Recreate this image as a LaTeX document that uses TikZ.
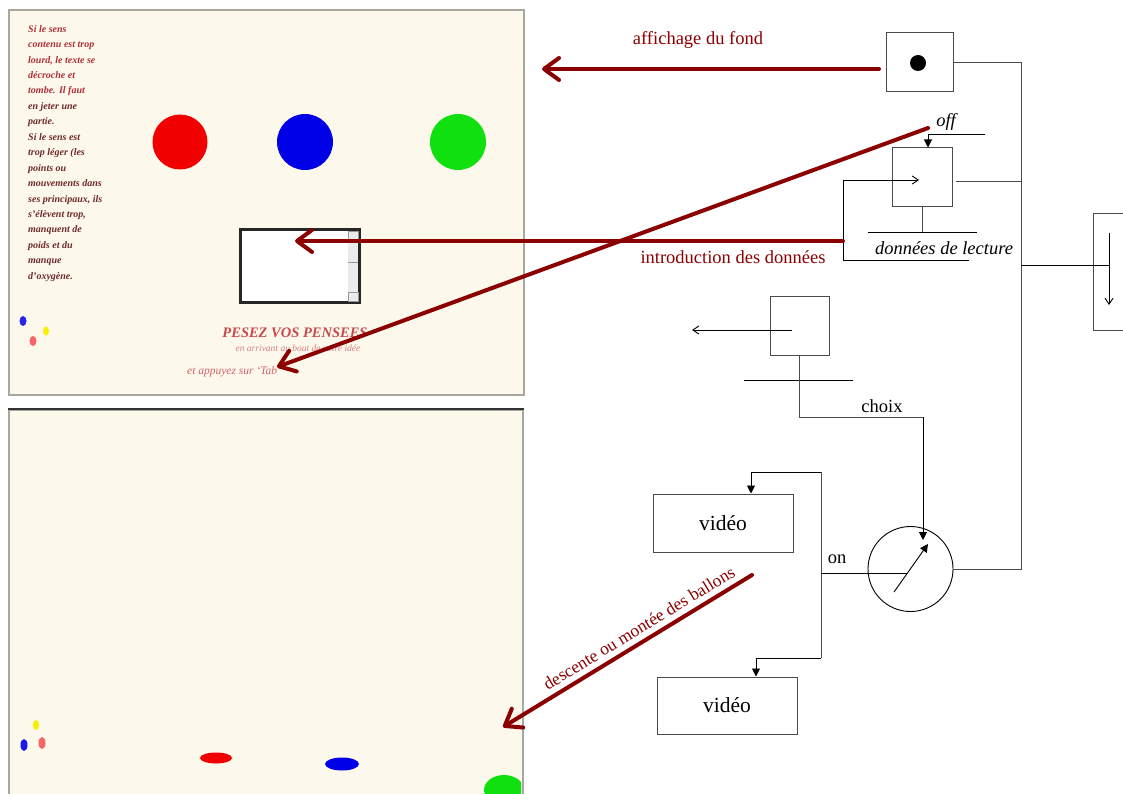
\documentclass[tikz,border=0pt]{standalone}
\usepackage{fontspec}
\setmainfont{Liberation Serif}
\usetikzlibrary{arrows.meta}

\definecolor{arrowred}{HTML}{8B0000}
\definecolor{paper}{HTML}{FDF8EC}
\definecolor{framegray}{HTML}{A8A8A0}
\definecolor{linegray}{HTML}{4A4A4A}
\definecolor{noteRed}{HTML}{B0303A}
\definecolor{noteDark}{HTML}{6E2A2A}
\definecolor{titleRed}{HTML}{C8484E}
\definecolor{ballRed}{HTML}{F00000}
\definecolor{ballBlue}{HTML}{0000E6}
\definecolor{ballGreen}{HTML}{10E010}
\definecolor{ballYellow}{HTML}{F5F000}

\begin{document}
\begin{tikzpicture}[x=1pt,y=-1pt,
  box/.style={draw=linegray, line width=1pt, inner sep=0pt},
  wire/.style={draw=linegray, line width=1pt},
  thinline/.style={draw=black, line width=0.9pt},
  tri/.style={thinline, -{Triangle[length=8pt,width=8pt]}},
  barb/.style={thinline, -{Straight Barb[length=6pt,width=8pt]}},
  bigarrow/.style={draw=arrowred, line width=4pt, line cap=round,
    -{Straight Barb[length=15pt,width=22pt,line cap=round,line join=round]}},
  redlabel/.style={text=arrowred, font=\fontsize{18.5}{20}\selectfont, inner sep=0pt},
  blacklabel/.style={text=black, inner sep=0pt, font=\fontsize{18.5}{20}\selectfont}
]
\useasboundingbox (0,0) rectangle (1123,794);
\clip (0,0) rectangle (1123,794);
\fill[white] (0,0) rectangle (1123,794);

% ---------- upper screen: entry form ----------
\node[rectangle, fill=paper, draw=framegray, line width=2pt,
      minimum width=515pt, minimum height=385pt, anchor=north west, inner sep=0pt]
      (screenA) at (8,9) {};

\node[anchor=north west, align=left, inner sep=0pt,
      font=\bfseries\itshape\fontsize{10}{15.45}\selectfont] (note) at (28,25)
  {\textcolor{noteRed}{Si le sens}\\
   \textcolor{noteRed}{contenu est trop}\\
   \textcolor{noteRed}{lourd, le texte se}\\
   \textcolor{noteRed}{décroche et}\\
   \textcolor{noteRed}{tombe. Il faut}\\
   \textcolor{noteDark}{en jeter une}\\
   \textcolor{noteDark}{partie.}\\
   \textcolor{noteDark}{Si le sens est}\\
   \textcolor{noteDark}{trop léger (les}\\
   \textcolor{noteDark}{points ou}\\
   \textcolor{noteDark}{mouvements dans}\\
   \textcolor{noteDark}{ses principaux, ils}\\
   \textcolor{noteDark}{s'élèvent trop,}\\
   \textcolor{noteDark}{manquent de}\\
   \textcolor{noteDark}{poids et du}\\
   \textcolor{noteDark}{manque}\\
   \textcolor{noteDark}{d'oxygène.}};

% balloons
\fill[ballRed] (180,142) circle (27.5);
\fill[ballBlue] (305,142) circle (28);
\fill[ballGreen] (458,142) circle (28);

% text entry field with its scroll bar
\node[rectangle, draw=black!85, line width=2.5pt, fill=white,
      minimum width=119pt, minimum height=73pt, inner sep=0pt] (entry) at (300,266) {};
\fill[black!8] (348,231) rectangle (358,301);
\draw[black!40, line width=0.6pt] (348,231) rectangle (358,240);
\draw[black!40, line width=0.6pt] (348,292) rectangle (358,301);
\draw[black!40, line width=0.6pt] (348,262) -- (358,262);

\node[text=titleRed, font=\bfseries\itshape\fontsize{14.5}{15}\selectfont, inner sep=0pt]
      (title) at (295,333) {PESEZ VOS PENSEES};
\node[text=titleRed!70, font=\itshape\fontsize{9.5}{10}\selectfont, inner sep=0pt]
      (subtitle) at (298,348) {en arrivant au bout de votre idée};
\node[text=titleRed!85, font=\itshape\fontsize{11.5}{12}\selectfont, inner sep=0pt, anchor=west]
      (hint) at (187,372) {et appuyez sur `Tab'};

% small markers
\fill[ballBlue!85] (23,321) ellipse (3.5 and 5);
\fill[ballYellow] (46,331) ellipse (3 and 4.5);
\fill[ballRed!60] (33,341) ellipse (3.5 and 5);

% ---------- lower screen: balloons moving ----------
\node[rectangle, fill=paper, draw=framegray, line width=2pt,
      minimum width=514pt, minimum height=392pt, anchor=north west, inner sep=0pt]
      (screenB) at (8,409) {};
\draw[black!80, line width=2pt] (screenB.north west) -- (screenB.north east);
\fill[ballYellow] (36,725) ellipse (3 and 5);
\fill[ballBlue!90] (24,745) ellipse (3.5 and 6);
\fill[ballRed!60] (42,743) ellipse (3.5 and 6);
\fill[ballRed] (216,758) ellipse (16 and 5.5);
\fill[ballBlue] (342,764) ellipse (17 and 6.5);
\begin{scope}
  \clip (9,410) rectangle (521,794);
  \fill[ballGreen] (504,790) ellipse (20 and 15);
\end{scope}

% ---------- control diagram ----------
\node[box, minimum width=67pt, minimum height=59pt] (fond) at (919.5,62.5) {};
\node[circle, fill=black, minimum size=16pt, inner sep=0pt] (dot) at (918,63) {};

\node[box, minimum width=60pt, minimum height=59pt] (store) at (922,177.5) {};
\node[box, minimum width=60pt, minimum height=117pt, anchor=north west] (sink) at (1093,213) {};
\node[box, minimum width=59pt, minimum height=59pt] (choice) at (799.5,325.5) {};
\node[box, minimum width=140pt, minimum height=58pt, font=\fontsize{21.5}{22}\selectfont] (vidA) at (723,523) {vidéo};
\node[box, minimum width=140pt, minimum height=57pt, font=\fontsize{21.5}{22}\selectfont] (vidB) at (727,705.5) {vidéo};
\node[draw=black, line width=0.9pt, circle, minimum size=85pt, inner sep=0pt] (gate) at (910.5,569) {};

% bus on the right
\coordinate (busBot) at (1021,569);
\draw[wire] (fond.east) -| (busBot) -- (gate.east);
\coordinate (storeOut) at (956,182);
\draw[wire] (storeOut) -- (storeOut -| busBot);
\coordinate (tap) at (1021,265);
\coordinate (sinkIn) at (1109,233);
\coordinate (sinkOut) at (1109,305);
\draw[thinline] (tap) -- (tap -| sinkIn);
\draw[barb] (sinkIn) -- (sinkOut);

% "off" input
\coordinate (offEnd) at (985,134);
\coordinate (offCorner) at (928,134);
\draw[tri] (offEnd) -- (offCorner) -- (offCorner |- store.north);
\node[blacklabel, font=\itshape\fontsize{18.5}{20}\selectfont] (offLbl) at (946,122) {off};

% reading data
\coordinate (storeFoot) at (922,232);
\coordinate (barL) at (868,232);
\coordinate (barR) at (977,232);
\draw[wire] (store.south) -- (storeFoot);
\draw[thinline] (barL) -- (barR);
\node[blacklabel, font=\itshape\fontsize{18.5}{20}\selectfont] (readLbl) at (944,248) {données de lecture};
\coordinate (loopA) at (969,260);
\coordinate (loopB) at (843,260);
\coordinate (loopC) at (843,180);
\coordinate (loopD) at (919,180);
\draw[barb] (loopA) -- (loopB) -- (loopC) -- (loopD);

% choice
\coordinate (choiceIn) at (792,330);
\coordinate (choiceOut) at (692,330);
\draw[barb] (choiceIn) -- (choiceOut);
\coordinate (chBarL) at (744,380);
\coordinate (chBarR) at (853,380);
\draw[thinline] (chBarL) -- (chBarR);
\coordinate (chTurn) at (799.5,417);
\coordinate (chCorner) at (923,417);
\coordinate (chTip) at (923,540);
\draw[wire] (choice.south) -- (chTurn) -- (chCorner);
\draw[tri] (chCorner) -- (chTip);
\node[blacklabel] (choixLbl) at (882,406) {choix};

% switch to the two videos
\coordinate (vTop) at (821,472);
\coordinate (vBot) at (821,658);
\coordinate (vOn) at (821,573);
\coordinate (gateHub) at (907,573);
\coordinate (vAin) at (751,472);
\coordinate (vBin) at (756,658);
\draw[wire] (vTop) -- (vBot);
\draw[tri] (vTop) -- (vAin) -- (vAin |- vidA.north);
\draw[tri] (vBot) -- (vBin) -- (vBin |- vidB.north);
\draw[thinline] (vOn) -- (gateHub);
\node[blacklabel] (onLbl) at (837,559) {on};
\coordinate (needleA) at (894,592);
\coordinate (needleB) at (928,544);
\draw[tri] (needleA) -- (needleB);

% ---------- links to the screens ----------
\coordinate (fondOut) at (879,69);
\coordinate (screenTop) at (542,69);
\draw[bigarrow] (fondOut) -- (screenTop);
\node[redlabel] (fondLbl) at (698,40) {affichage du fond};

\coordinate (introStart) at (843,241);
\coordinate (entryPoint) at (295,241);
\draw[bigarrow] (introStart) -- (entryPoint);
\node[redlabel] (introLbl) at (733,257) {introduction des données};

\coordinate (offStart) at (928,128);
\coordinate (hintPoint) at (277,367);
\draw[bigarrow] (offStart) -- (hintPoint);

\coordinate (moveStart) at (752,575);
\coordinate (moveEnd) at (503,727);
\draw[bigarrow] (moveStart) -- (moveEnd);
\node[redlabel, font=\fontsize{17.5}{19}\selectfont, rotate=31.4] (moveLbl) at (639,628) {descente ou montée des ballons};
\end{tikzpicture}
\end{document}
